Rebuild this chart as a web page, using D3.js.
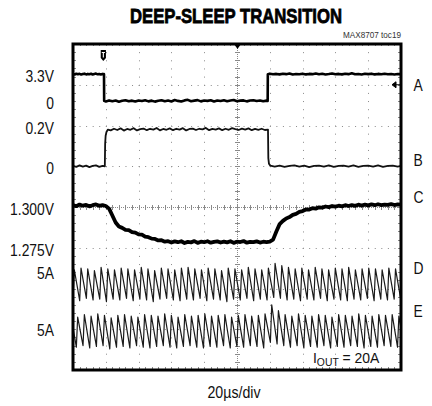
<!DOCTYPE html>
<html><head><meta charset="utf-8">
<script src="https://cdn.jsdelivr.net/npm/d3@7"></script>
<style>html,body{margin:0;padding:0;background:#fff}</style>
</head><body>
<script>
// ---------------- data ----------------
const title = "DEEP-SLEEP TRANSITION";
const docId = "MAX8707 toc19";
const timebase = "20µs/div";
const timeDomain = [0, 200];          // µs, 20 µs/div
const divisionsX = 10, divisionsY = 8;
const triggerTime = 18.5;             // µs
const loadNote = {main: "I", sub: "OUT", rest: " = 20A"};

// channel A (V): [time µs, volts]
const traceA = [
[0,3.32],[1,3.26],[2,3.35],[3,3.28],[4,3.34],[5,3.25],[6,3.31],[7,3.36],[8,3.27],[9,3.33],[10,3.29],[11,3.35],[12,3.26],[13,3.32],[14,3.37],[15,3.28],[16,3.31],[17,3.25],[18,3.33],[18.9,3.3],
[19.0,0.02],[20,-0.05],[22,0.08],[24,-0.02],[26,0.06],[28,-0.08],[30,0.04],[32,0.1],[34,-0.03],[36,0.05],[38,-0.06],[40,0.07],[42,0.0],[44,0.09],[46,-0.04],[48,0.05],[50,-0.07],[52,0.03],[54,0.1],[56,-0.02],[58,0.06],[60,-0.05],[62,0.12],[64,0.02],[66,-0.06],[68,0.08],[70,0.15],[72,-0.02],[74,0.05],[76,0.11],[78,-0.04],[80,0.06],[82,0.02],[84,0.1],[86,-0.05],[88,0.07],[90,0.0],[92,0.09],[94,-0.03],[96,0.06],[98,0.12],[100,-0.02],[102,0.05],[104,0.08],[106,-0.04],[108,0.06],[110,0.1],[112,0.0],[114,0.07],[116,-0.03],[118,0.05],[118.7,0.02],
[118.8,3.3],[120,3.36],[122,3.28],[124,3.33],[126,3.27],[128,3.35],[130,3.3],[132,3.38],[134,3.26],[136,3.32],[138,3.29],[140,3.36],[142,3.27],[144,3.33],[146,3.3],[148,3.38],[150,3.28],[152,3.34],[154,3.26],[156,3.31],[158,3.37],[160,3.29],[162,3.33],[164,3.27],[166,3.35],[168,3.3],[170,3.4],[172,3.28],[174,3.32],[176,3.26],[178,3.34],[180,3.3],[182,3.36],[184,3.27],[186,3.33],[188,3.29],[190,3.35],[192,3.28],[194,3.32],[196,3.26],[198,3.31],[200,3.3]
];

// channel B (V)
const traceB = [
[0,0.002],[2,-0.003],[4,0.004],[6,-0.002],[8,0.003],[10,-0.004],[12,0.002],[14,0.004],[16,-0.003],[18,0.002],[19.4,0.0],
[19.6,0.11],[19.9,0.15],[20.4,0.168],[21.3,0.18],
[23,0.176],[25,0.184],[27,0.178],[29,0.186],[31,0.175],[33,0.183],[35,0.179],[37,0.187],[39,0.176],[41,0.182],[43,0.185],[45,0.177],[47,0.184],[49,0.18],[51,0.188],[53,0.176],[55,0.183],[57,0.179],[59,0.186],[61,0.177],[63,0.184],[65,0.18],[67,0.187],[69,0.176],[71,0.183],[73,0.185],[75,0.178],[77,0.184],[79,0.181],[81,0.188],[83,0.177],[85,0.183],[87,0.18],[89,0.186],[91,0.177],[93,0.184],[95,0.179],[97,0.187],[99,0.182],[101,0.178],[103,0.185],[105,0.18],[107,0.186],[109,0.177],[111,0.183],[113,0.179],[115,0.184],[117,0.178],[118.9,0.18],
[119.1,0.04],[119.5,0.012],[120.3,0.003],
[123,-0.002],[126,0.003],[129,-0.003],[132,0.002],[135,0.004],[138,-0.002],[141,0.003],[144,-0.004],[147,0.002],[150,0.003],[153,-0.002],[156,0.004],[159,-0.003],[162,0.002],[165,0.003],[168,-0.002],[171,0.004],[174,-0.003],[177,0.002],[180,0.003],[183,-0.002],[186,0.004],[189,-0.003],[192,0.002],[195,0.003],[198,-0.002],[200,0.002]
];

// channel C (V), sampled every 2 µs from 0 to 200 µs
const sampleStepC = 2;
const traceC = [
1.3012,1.3005,1.3015,1.3008,1.3013,1.3004,1.3011,1.3016,1.3007,1.3012,1.3006,
1.2990,1.2948,1.2905,1.2880,1.2872,1.2860,1.2858,1.2846,1.2843,1.2832,1.2830,1.2818,1.2815,1.2806,1.2804,1.2795,1.2796,1.2787,1.2790,
1.2782,1.2789,1.2784,1.2790,1.2779,1.2786,1.2783,1.2791,1.2780,1.2787,1.2784,1.2790,1.2781,1.2786,1.2789,1.2782,1.2788,1.2783,1.2790,1.2780,1.2787,1.2785,1.2791,1.2781,1.2786,1.2784,1.2789,1.2782,1.2787,1.2785,1.2788,
1.2800,1.2850,1.2895,1.2915,1.2930,1.2938,1.2952,1.2958,1.2970,1.2975,1.2985,1.2984,1.2993,1.2990,1.2998,1.2996,1.3003,1.2999,1.3006,1.3002,
1.3008,1.3004,1.3011,1.3006,1.3012,1.3007,1.3014,1.3009,1.3015,1.3010,1.3016,1.3011,1.3017,1.3012,1.3015,1.3013,1.3018,1.3012,1.3016,1.3014
];

// channels D and E (A): inductor current ripple, one peak/valley per switching cycle
const switchingPeriod = 4.08;   // µs
const riseFraction = 0.2;
const phaseD = 0, phaseE = -2.04;
const peaksD = [
11.8,12.0,11.9,11.7,12.1,11.9,11.8,12.0,11.9,11.8,
12.1,11.9,11.7,12.0,11.9,11.8,12.0,12.1,11.9,11.8,
12.0,11.9,11.7,12.0,11.9,11.8,12.1,11.9,11.8,12.0,
12.6,12.3,12.1,11.9,12.0,11.8,12.1,11.9,11.8,12.0,
11.9,12.1,11.8,11.9,12.0,11.9,11.8,12.0,11.9];
const valleysD = [
8.2,8.0,8.3,8.1,8.2,7.9,8.2,8.1,8.3,8.0,
8.2,8.1,7.9,8.2,8.3,8.1,8.0,8.2,8.1,8.3,
8.0,8.2,8.1,7.9,8.2,8.1,8.3,8.0,8.2,8.1,
8.4,8.3,8.1,8.2,8.0,8.2,8.1,8.3,8.0,8.2,
8.1,8.0,8.2,8.1,8.3,8.0,8.2,8.1,8.2,8.1];
const peaksE = [
11.9,11.7,12.0,11.8,12.1,11.9,11.6,11.9,12.0,11.8,
11.7,12.0,11.9,11.8,12.1,11.9,11.7,12.0,11.8,11.9,
12.1,11.8,11.9,12.0,11.7,11.9,12.0,11.8,11.9,12.1,
13.2,12.5,12.0,11.8,12.1,11.9,11.8,12.0,11.9,11.7,
12.0,11.9,11.8,12.1,11.9,11.8,12.0,11.9,12.0,11.8];
const valleysE = [
8.1,8.0,8.2,7.9,8.1,8.2,7.8,8.0,8.1,7.9,
8.2,8.0,7.9,8.1,8.2,8.0,7.9,8.1,8.2,8.0,
7.9,8.1,8.0,8.2,7.9,8.1,8.0,8.2,8.1,7.9,
8.6,8.4,8.2,8.0,8.2,7.9,8.1,8.0,8.2,7.9,
8.1,8.0,8.2,8.1,7.9,8.1,8.0,8.2,8.1,8.0,8.1];

// level labels on the left (channel, value, text) and channel names on the right
const leftLabels = [
 {ch:"A", v:3.3, text:"3.3V"}, {ch:"A", v:0, text:"0"},
 {ch:"B", v:0.2, text:"0.2V"}, {ch:"B", v:0, text:"0"},
 {ch:"C", v:1.300, text:"1.300V"}, {ch:"C", v:1.275, text:"1.275V"},
 {ch:"D", v:11.6, text:"5A"}, {ch:"E", v:10.3, text:"5A"}
];
const rightLabels = [
 {ch:"A", v:2.0, text:"A"}, {ch:"B", v:0.03, text:"B"}, {ch:"C", v:1.306, text:"C"},
 {ch:"D", v:12.0, text:"D"}, {ch:"E", v:12.4, text:"E"}
];

// ---------------- layout ----------------
const W = 432, H = 406;
const X0 = 73, X1 = 401, Y0 = 44, Y1 = 370;
// per-channel vertical setting: units per division, reference value and its division
const channels = {
 A:{perDiv:5,     ref:0,   refDiv:6.6},
 B:{perDiv:0.2,   ref:0,   refDiv:5},
 C:{perDiv:0.025, ref:1.3, refDiv:4},
 D:{perDiv:5,     ref:10,  refDiv:2.1},
 E:{perDiv:5,     ref:10,  refDiv:0.96}
};
const FONT = "'Liberation Sans', Arial, Helvetica, sans-serif";
const NARROW = 0.84;

const x = d3.scaleLinear().domain(timeDomain).range([X0, X1]);
const div = d3.scaleLinear().domain([0, divisionsY]).range([Y1, Y0]);
const xdiv = d3.scaleLinear().domain([0, divisionsX]).range([X0, X1]);
const yOf = ch => v => div(channels[ch].refDiv + (v - channels[ch].ref) / channels[ch].perDiv);

const svg = d3.select("body").append("svg").attr("width", W).attr("height", H)
  .style("display","block").style("background","#fff");

function ntext(g, px, py, str, size, anchor, opts={}) {
  const t = g.append("g").attr("transform", `translate(${px},${py}) scale(${opts.sx||NARROW},1)`)
    .append("text").attr("x",0).attr("y",0).attr("text-anchor", anchor)
    .attr("font-family", FONT).attr("font-size", size).attr("fill", opts.fill||"#111").text(str);
  return t;
}

// title
svg.append("text").attr("x", 236).attr("y", 23).attr("text-anchor","middle")
  .attr("font-family", FONT).attr("font-weight","bold").attr("font-size", 21)
  .attr("textLength", 212).attr("lengthAdjust","spacingAndGlyphs")
  .attr("fill","#000").attr("stroke","#000").attr("stroke-width",0.8).text(title);
ntext(svg, 401, 37.5, docId, 9.5, "end", {sx:0.86, fill:"#333"});

// ---------------- graticule ----------------
const grid = svg.append("g").attr("stroke","#8a8a8a").attr("stroke-width",1);
const minorX = (X1-X0)/divisionsX/5, minorY = (Y1-Y0)/divisionsY/5;
d3.range(1, divisionsX).filter(i => i !== divisionsX/2).forEach(i => {
  const px = Math.round(xdiv(i)) + 0.5;
  grid.append("line").attr("x1",px).attr("x2",px).attr("y1",Y0).attr("y2",Y1)
    .attr("stroke-dasharray", `1 ${minorY-1}`).attr("stroke-dashoffset", 0);
});
d3.range(1, divisionsY).filter(i => i !== divisionsY/2).forEach(i => {
  const py = Math.round(div(i)) + 0.5;
  grid.append("line").attr("y1",py).attr("y2",py).attr("x1",X0).attr("x2",X1)
    .attr("stroke-dasharray", `1 ${minorX-1}`);
});
// center crosshair
const cx = Math.round(xdiv(divisionsX/2)) + 0.5, cy = Math.round(div(divisionsY/2)) + 0.5;
grid.append("line").attr("x1",cx).attr("x2",cx).attr("y1",Y0).attr("y2",Y1).attr("stroke-dasharray","1 1");
grid.append("line").attr("y1",cy).attr("y2",cy).attr("x1",X0).attr("x2",X1).attr("stroke-dasharray","1 1");
d3.range(0, divisionsY*5+1).forEach(k => {
  const py = Math.round(Y0 + k*minorY) + 0.5;
  grid.append("line").attr("x1",cx-2.5).attr("x2",cx+2.5).attr("y1",py).attr("y2",py);
  grid.append("line").attr("x1",X0).attr("x2",X0+3).attr("y1",py).attr("y2",py);
  grid.append("line").attr("x1",X1-3).attr("x2",X1).attr("y1",py).attr("y2",py);
});
d3.range(0, divisionsX*5+1).forEach(k => {
  const px = Math.round(X0 + k*minorX) + 0.5;
  grid.append("line").attr("y1",cy-2.5).attr("y2",cy+2.5).attr("x1",px).attr("x2",px);
  grid.append("line").attr("y1",Y1-3).attr("y2",Y1).attr("x1",px).attr("x2",px);
  grid.append("line").attr("y1",Y0).attr("y2",Y0+2).attr("x1",px).attr("x2",px);
});

// ---------------- traces ----------------
svg.append("clipPath").attr("id","clip").append("rect")
  .attr("x",X0).attr("y",Y0).attr("width",X1-X0).attr("height",Y1-Y0);
const traces = svg.append("g").attr("clip-path","url(#clip)").attr("fill","none")
  .attr("stroke-linejoin","round").attr("stroke-linecap","round");

function drawPairs(ch, pts, width, color) {
  const fy = yOf(ch);
  traces.append("path").datum(pts)
    .attr("d", d3.line().x(d => x(d[0])).y(d => fy(d[1])))
    .attr("stroke", color).attr("stroke-width", width);
}
drawPairs("A", traceA, 2.6, "#000");
drawPairs("B", traceB, 1.8, "#111");
drawPairs("C", traceC.map((v,i) => [i*sampleStepC, v]), 3.8, "#000");

function ripple(peaks, valleys, phase) {
  const pts = [];
  peaks.forEach((p, i) => {
    const t0 = phase + i*switchingPeriod;
    pts.push([t0, valleys[i]]);
    pts.push([t0 + riseFraction*switchingPeriod, p]);
  });
  pts.push([phase + peaks.length*switchingPeriod, valleys[peaks.length]]);
  return pts;
}
drawPairs("D", ripple(peaksD, valleysD, phaseD), 1.2, "#1a1a1a");
drawPairs("E", ripple(peaksE, valleysE, phaseE), 1.2, "#1a1a1a");

// ---------------- markers ----------------
const tx = x(triggerTime);
svg.append("path").attr("d", `M${tx-2.6},50 h5.2 v8 l-2.6,3 l-2.6,-3 Z`).attr("fill","#000");
svg.append("path").attr("d", `M${tx-1.6},52.5 h3.2 M${tx},52.5 v5`).attr("stroke","#fff").attr("stroke-width",1.1);
svg.append("path").attr("d", `M${cx-3.5},${Y0} h7 l-3.5,5 Z`).attr("fill","#000");
const ay = yOf("A")(2.0);
svg.append("path").attr("d", `M${X1-9},${ay} l4,-3 v6 Z M${X1-6},${ay} h5`).attr("fill","#000").attr("stroke","#000").attr("stroke-width",1);

// frame
svg.append("rect").attr("x",X0).attr("y",Y0).attr("width",X1-X0).attr("height",Y1-Y0)
  .attr("fill","none").attr("stroke","#000").attr("stroke-width",3);

// ---------------- labels ----------------
leftLabels.forEach(d => ntext(svg, 54, yOf(d.ch)(d.v) + 8, d.text, 16.5, "end"));
rightLabels.forEach(d => ntext(svg, 413.5, yOf(d.ch)(d.v) + 6, d.text, 16.5, "start"));

ntext(svg, 234, 398, timebase, 16.5, "middle", {sx:0.86});

const io = svg.append("g").attr("transform", `translate(313,362.5) scale(0.9,1)`)
  .append("text").attr("font-family", FONT).attr("fill","#111");
io.append("tspan").attr("font-size",15.5).text(loadNote.main);
io.append("tspan").attr("font-size",11.5).attr("dy",3.5).text(loadNote.sub);
io.append("tspan").attr("font-size",15.5).attr("dy",-3.5).text(loadNote.rest);
</script>
</body></html>
